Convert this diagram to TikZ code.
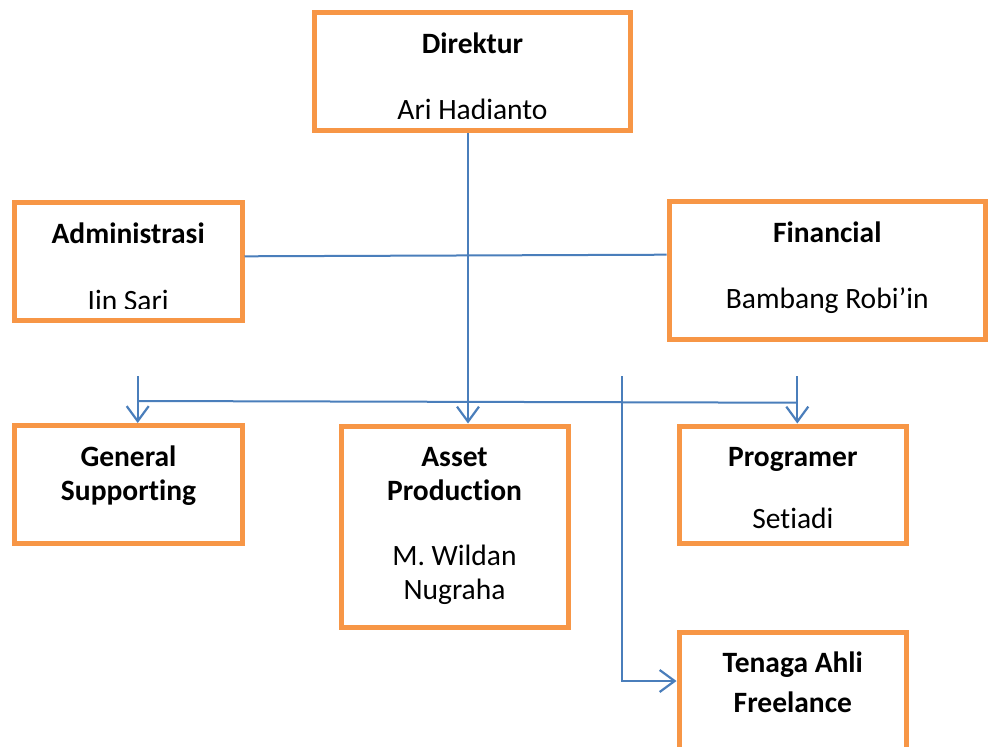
\documentclass[tikz,border=0pt]{standalone}
\usepackage{fontspec}
\setmainfont{Carlito}[Ligatures=NoCommon,RawFeature={-clig;-dlig}]
\usetikzlibrary{arrows.meta}
\definecolor{boxorange}{HTML}{F79646}
\definecolor{linkblue}{HTML}{4A7EBB}
\begin{document}
\begin{tikzpicture}[x=1pt,y=-1pt,
  box/.style={draw=boxorange,line width=5pt,fill=none,inner sep=0pt,minimum width=#1},
  lbl/.style={anchor=base,inner sep=0pt,font=\fontsize{29.5}{35}\selectfont},
  blbl/.style={lbl,font=\fontsize{29.5}{35}\selectfont\bfseries},
  link/.style={draw=linkblue,line width=2pt},
  arr/.style={link,-{Straight Barb[length=15pt,width=22pt,line width=2.2pt]}}]
\clip (0,0) rectangle (989,747);
\fill[white] (0,0) rectangle (989,747);
% boxes
\node[box=316pt,minimum height=118.5pt] (dir) at (472.5,71.25) {};
\node[box=227.7pt,minimum height=118pt] (adm) at (128.15,261) {};
\node[box=316.5pt,minimum height=138.7pt] (fin) at (827.25,270.35) {};
\node[box=228pt,minimum height=117.8pt] (gen) at (128.5,484.4) {};
\node[box=227pt,minimum height=201.5pt] (asset) at (454.5,526.75) {};
\node[box=227.7pt,minimum height=117.3pt] (prog) at (792.85,484.65) {};
\node[box=227.7pt,minimum height=148pt] (ten) at (792.85,706) {};
% texts
\node[blbl] (tdir) at (472.5,53) {Direktur};
\begin{scope}
\clip (317,95) rectangle (628,118);
\node[lbl] (tari) at (472.5,119.5) {Ari Hadianto};
\end{scope}
\node[blbl] (tadm) at (128.15,243) {Administrasi};
\begin{scope}
\clip (17,280) rectangle (239,308);
\node[lbl] (tiin) at (128.15,310) {Iin Sari};
\end{scope}
\node[blbl] (tfin) at (827.25,242) {Financial};
\node[lbl] (tbam) at (827.25,308.5) {Bambang Robi’in};
\node[blbl] (tgen1) at (128.5,466) {General};
\node[blbl] (tgen2) at (128.5,500.7) {Supporting};
\node[blbl] (tas1) at (454.5,466) {Asset};
\node[blbl] (tas2) at (454.5,500.7) {Production};
\node[lbl] (tas3) at (454.5,565) {M. Wildan};
\node[lbl] (tas4) at (454.5,599) {Nugraha};
\node[blbl] (tprog) at (792.85,466) {Programer};
\node[lbl] (tset) at (792.85,528) {Setiadi};
\node[blbl] (tten1) at (792.85,672) {Tenaga Ahli};
\node[blbl] (tten2) at (792.85,712) {Freelance};
% connectors
\coordinate (dx) at (468,0);
\draw[arr] (dir.south -| dx) -- (asset.north -| dx);
\draw[link] ([yshift=4.7pt]adm.east) -- ([yshift=15.65pt]fin.west);
\coordinate (bl) at (137.7,401);
\coordinate (br) at (797.3,402.7);
\draw[link] (bl) -- (br);
\coordinate (gt) at (137.7,376);
\coordinate (pt) at (797.3,376);
\coordinate (ft) at (622,376);
\draw[arr] (gt) -- (gt |- gen.north);
\draw[arr] (pt) -- (pt |- prog.north);
\draw[arr] (ft) |- ([yshift=25pt]ten.west);
\end{tikzpicture}
\end{document}
